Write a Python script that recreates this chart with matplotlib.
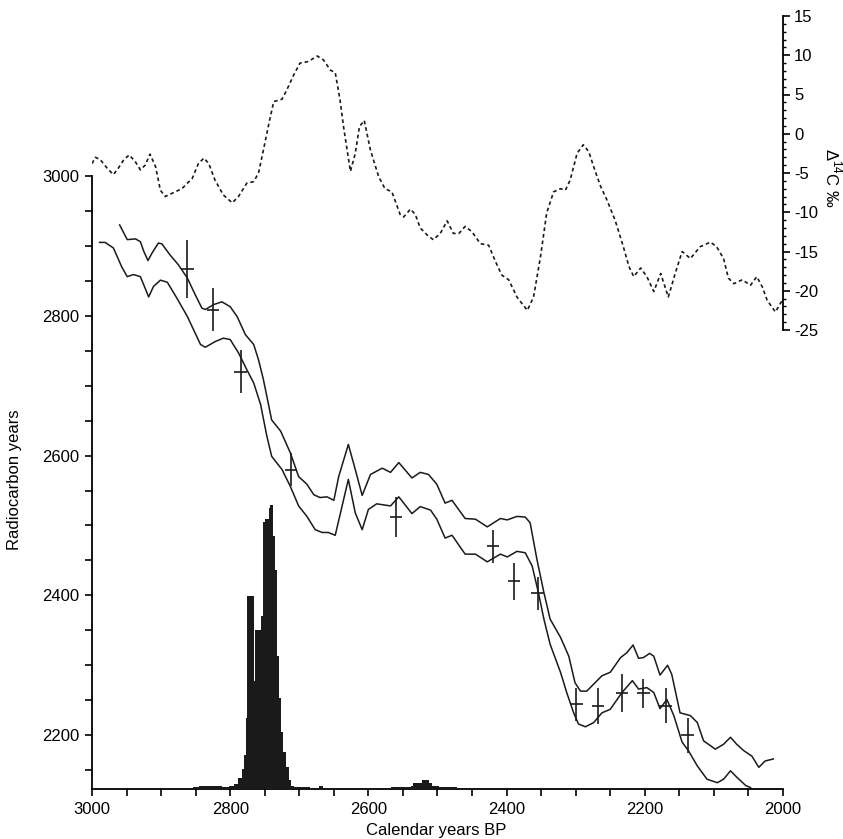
import numpy as np
import matplotlib.pyplot as plt
from matplotlib.ticker import MultipleLocator, FuncFormatter

plt.rcParams['font.family'] = ['Liberation Sans', 'DejaVu Sans']
plt.rcParams['axes.unicode_minus'] = False
plt.rcParams['mathtext.fontset'] = 'custom'
plt.rcParams['mathtext.rm'] = 'Liberation Sans'

# calibration curve, upper (+1 sigma)
upper_yr = [2960, 2949, 2937, 2930, 2925, 2919, 2913, 2904, 2899, 2887, 2875, 2862, 2853, 2841,
            2836, 2824, 2812, 2800, 2790, 2778, 2766, 2759, 2752, 2740, 2727, 2713, 2701, 2689,
            2679, 2670, 2660, 2650, 2643, 2629, 2619, 2609, 2597, 2580, 2568, 2556, 2537, 2525,
            2513, 2501, 2489, 2479, 2460, 2445, 2428, 2409, 2399, 2385, 2373, 2366, 2356, 2346,
            2337, 2322, 2310, 2301, 2293, 2284, 2274, 2262, 2250, 2235, 2226, 2217, 2209, 2202,
            2193, 2187, 2178, 2167, 2161, 2149, 2134, 2124, 2115, 2098, 2086, 2076, 2067, 2057,
            2045, 2035, 2026, 2014]
upper_c14 = [2930, 2909, 2910, 2906, 2892, 2879, 2890, 2904, 2903, 2887, 2873, 2854, 2835, 2811,
             2809, 2816, 2820, 2813, 2799, 2773, 2759, 2737, 2709, 2651, 2635, 2604, 2570, 2559,
             2544, 2540, 2541, 2536, 2570, 2616, 2580, 2543, 2573, 2582, 2576, 2590, 2568, 2576,
             2573, 2559, 2532, 2536, 2510, 2509, 2498, 2510, 2508, 2513, 2512, 2504, 2451, 2404,
             2366, 2340, 2313, 2275, 2263, 2263, 2273, 2285, 2290, 2311, 2318, 2329, 2310, 2311,
             2317, 2313, 2286, 2300, 2287, 2232, 2228, 2218, 2192, 2180, 2187, 2197, 2187, 2178,
             2170, 2154, 2163, 2166]

# calibration curve, lower (-1 sigma)
lower_yr = [2989, 2981, 2969, 2957, 2949, 2940, 2930, 2925, 2918, 2911, 2901, 2891, 2877, 2862,
            2853, 2843, 2836, 2822, 2810, 2800, 2788, 2776, 2766, 2756, 2747, 2740, 2725, 2713,
            2701, 2689, 2677, 2667, 2658, 2648, 2629, 2619, 2609, 2600, 2588, 2568, 2556, 2537,
            2525, 2510, 2501, 2489, 2479, 2460, 2445, 2428, 2409, 2399, 2385, 2373, 2363, 2354,
            2346, 2337, 2322, 2313, 2303, 2296, 2286, 2274, 2262, 2250, 2233, 2218, 2209, 2197,
            2187, 2178, 2168, 2158, 2146, 2137, 2124, 2110, 2095, 2086, 2076, 2067, 2054, 2047]
lower_c14 = [2905, 2905, 2897, 2870, 2856, 2859, 2856, 2844, 2827, 2842, 2851, 2848, 2825, 2799,
             2780, 2759, 2755, 2763, 2768, 2766, 2747, 2723, 2704, 2673, 2628, 2599, 2580, 2556,
             2528, 2513, 2494, 2490, 2490, 2486, 2566, 2518, 2494, 2523, 2531, 2528, 2541, 2517,
             2527, 2522, 2509, 2482, 2486, 2459, 2459, 2448, 2459, 2455, 2463, 2461, 2442, 2404,
             2366, 2330, 2290, 2261, 2232, 2216, 2212, 2218, 2232, 2237, 2261, 2278, 2266, 2268,
             2261, 2238, 2251, 2228, 2190, 2178, 2156, 2137, 2132, 2137, 2149, 2140, 2128, 2125]

# wiggle-match dates (calendar position, 14C age, 1 sigma)
date_yr = [2862, 2825, 2785, 2712, 2560, 2420, 2389, 2355, 2299, 2268, 2233, 2202, 2170, 2138]
date_c14 = [2867, 2809, 2720, 2580, 2512, 2470, 2420, 2403, 2244, 2242, 2260, 2260, 2242, 2200]
date_err = [42, 31, 31, 24, 29, 23, 26, 24, 23, 26, 27, 21, 25, 25]
date_xerr = 9

# delta 14C record
d14_yr = [3000, 2995, 2988, 2978, 2969, 2962, 2954, 2946, 2937, 2930, 2923, 2916, 2908, 2901,
          2894, 2882, 2870, 2855, 2846, 2838, 2831, 2822, 2810, 2797, 2788, 2776, 2766, 2759,
          2752, 2744, 2737, 2725, 2718, 2708, 2699, 2687, 2674, 2665, 2655, 2648, 2641, 2636,
          2626, 2619, 2613, 2606, 2597, 2585, 2576, 2566, 2554, 2549, 2539, 2532, 2525, 2515,
          2506, 2496, 2486, 2477, 2469, 2460, 2450, 2438, 2426, 2416, 2407, 2397, 2385, 2370,
          2361, 2351, 2342, 2332, 2322, 2315, 2308, 2298, 2289, 2281, 2274, 2264, 2255, 2243,
          2231, 2223, 2216, 2206, 2197, 2187, 2177, 2166, 2156, 2146, 2134, 2120, 2105, 2096,
          2086, 2079, 2071, 2059, 2047, 2038, 2030, 2023, 2011, 2001]
d14_val = [-3.8, -3.0, -3.3, -4.4, -5.2, -4.4, -3.3, -2.7, -3.6, -4.6, -4.0, -2.6, -4.2, -7.2,
           -8.0, -7.5, -7.0, -5.7, -3.8, -3.1, -3.8, -5.9, -7.8, -8.8, -8.0, -6.3, -6.1, -5.0,
           -2.1, 1.3, 4.1, 4.4, 5.6, 7.5, 9.0, 9.2, 9.9, 9.4, 8.1, 7.8, 4.3, 0.9,
           -4.8, -2.5, 0.9, 1.7, -2.1, -5.5, -7.0, -7.4, -10.3, -10.6, -9.6, -10.3, -12.0, -12.9,
           -13.5, -12.7, -11.1, -12.7, -12.7, -11.8, -12.5, -14.0, -14.2, -16.3, -18.0, -18.6, -20.8, -22.5,
           -20.8, -15.7, -10.1, -7.4, -7.0, -7.2, -5.9, -2.5, -1.4, -2.3, -4.2, -6.7, -8.4, -11.0,
           -14.4, -16.9, -18.2, -17.1, -18.2, -20.1, -17.8, -20.8, -17.8, -15.0, -15.9, -14.4, -13.8, -14.4,
           -15.9, -18.4, -19.1, -18.6, -19.3, -18.2, -19.5, -21.2, -22.7, -21.2]

# calibrated probability distribution (relative)
prob_edges = [2472, 2498, 2508, 2513, 2522, 2535, 2539, 2567, 2586, 2600, 2666, 2672, 2684, 2708,
              2712, 2715, 2719, 2723, 2726, 2729, 2732, 2735, 2738, 2742, 2744, 2749, 2753, 2756,
              2764, 2766, 2775, 2777, 2780, 2783, 2788, 2795, 2802, 2812, 2845, 2854]
prob = [0.006, 0.012, 0.021, 0.032, 0.021, 0.012, 0.006, 0.0, 0.005, 0.0, 0.012, 0.0, 0.007,
        0.012, 0.032, 0.078, 0.13, 0.20, 0.32, 0.47, 0.77, 0.89, 1.0, 0.99, 0.95, 0.94, 0.61,
        0.56, 0.38, 0.68, 0.25, 0.12, 0.07, 0.04, 0.018, 0.012, 0.006, 0.012, 0.006]

W, H = 843, 839
fig = plt.figure(figsize=(W / 100, H / 100), dpi=100)
x0, x1 = 92, 783
rect_main = [x0 / W, 1 - 789 / H, (x1 - x0) / W, (789 - 176) / H]
rect_d14 = [x0 / W, 1 - 330 / H, (x1 - x0) / W, (330 - 16) / H]

ax = fig.add_axes(rect_main)
axh = fig.add_axes(rect_main, sharex=ax)
ax2 = fig.add_axes(rect_d14, sharex=ax)
for a in (axh, ax2):
    a.patch.set_visible(False)

lw = 1.1
ax.plot(upper_yr, upper_c14, color='#1a1a1a', lw=lw)
ax.plot(lower_yr, lower_c14, color='#1a1a1a', lw=lw)
ax.errorbar(date_yr, date_c14, yerr=date_err, xerr=date_xerr, fmt='none',
            ecolor='#1a1a1a', elinewidth=1.2, capsize=0)
ax.set_xlim(3000, 2000)
ax.set_ylim(2123, 3000)

axh.stairs(prob, prob_edges, fill=True, color='#1a1a1a', lw=0)
axh.set_ylim(0, 2.16)
axh.axis('off')

ax2.plot(d14_yr, d14_val, color='#1a1a1a', lw=1.2, linestyle=(0, (2.2, 1.8)))
ax2.set_ylim(-25, 15)

# main axis styling
for s in ('top', 'right'):
    ax.spines[s].set_visible(False)
for s in ('left', 'bottom'):
    ax.spines[s].set_linewidth(1.3)
ax.xaxis.set_major_locator(MultipleLocator(50))
ax.yaxis.set_major_locator(MultipleLocator(50))
ax.xaxis.set_major_formatter(FuncFormatter(lambda v, p: f'{v:.0f}' if round(v) % 200 == 0 else ''))
ax.yaxis.set_major_formatter(FuncFormatter(lambda v, p: f'{v:.0f}' if round(v) % 200 == 0 else ''))
ax.tick_params(direction='out', length=5, width=1.2, labelsize=12, pad=4)

# delta 14C axis on the right
for s in ('top', 'left', 'bottom'):
    ax2.spines[s].set_visible(False)
ax2.spines['right'].set_linewidth(1.3)
ax2.yaxis.tick_right()
ax2.yaxis.set_major_locator(MultipleLocator(5))
ax2.yaxis.set_minor_locator(MultipleLocator(1))
ax2.tick_params(axis='y', which='major', direction='out', length=5, width=1.2, labelsize=12, pad=3)
ax2.tick_params(axis='y', which='minor', direction='out', length=2.5, width=1.0)
ax2.tick_params(axis='x', bottom=False, labelbottom=False)

fig.text(15 / W, 1 - 480 / H, 'Radiocarbon years', rotation=90, ha='center', va='center', fontsize=12)
fig.text(436 / W, 1 - 830 / H, 'Calendar years BP', ha='center', va='center', fontsize=12)
fig.text(833 / W, 1 - 178 / H, r'$\Delta^{14}$C ‰', rotation=270, ha='center', va='center', fontsize=12)

fig.savefig('out.png', dpi=100)
